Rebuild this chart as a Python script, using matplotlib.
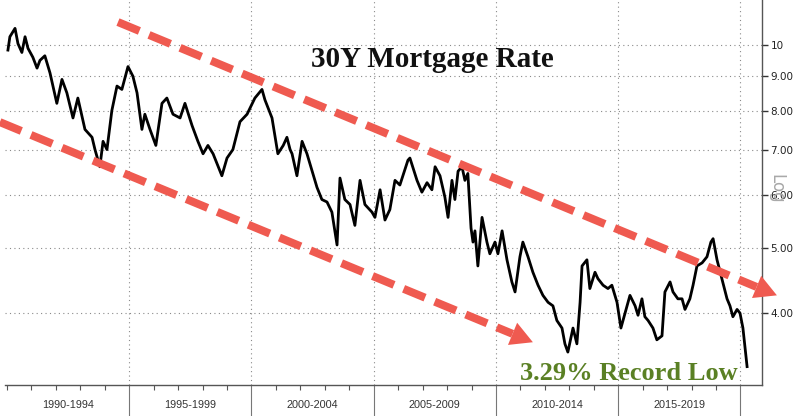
import matplotlib
matplotlib.use('Agg')
import matplotlib.pyplot as plt
import numpy as np

# weekly 30Y mortgage rate (decimal year, %)
years = [1990.04, 1990.12, 1990.33, 1990.45, 1990.61, 1990.74, 1990.86, 1991.06, 1991.23, 1991.35,
         1991.55, 1991.76, 1992.04, 1992.25, 1992.45, 1992.70, 1992.90, 1993.19, 1993.48, 1993.60,
         1993.80, 1993.93, 1994.09, 1994.29, 1994.50, 1994.70, 1994.95, 1995.15, 1995.32, 1995.52,
         1995.64, 1995.85, 1996.09, 1996.34, 1996.54, 1996.79, 1997.08, 1997.28, 1997.57, 1997.81,
         1998.02, 1998.22, 1998.43, 1998.79, 1999.00, 1999.24, 1999.53, 1999.82, 2000.14, 2000.43,
         2000.55, 2000.84, 2001.08, 2001.30, 2001.45, 2001.58, 2001.66, 2001.86, 2002.07, 2002.27,
         2002.68, 2002.88, 2003.09, 2003.29, 2003.50, 2003.62, 2003.82, 2004.03, 2004.23, 2004.44,
         2004.64, 2004.93, 2005.05, 2005.26, 2005.46, 2005.66, 2005.87, 2006.07, 2006.40, 2006.48,
         2006.77, 2006.97, 2007.18, 2007.38, 2007.51, 2007.71, 2007.91, 2008.04, 2008.20, 2008.32,
         2008.45, 2008.61, 2008.73, 2008.85, 2008.98, 2009.06, 2009.14, 2009.26, 2009.43, 2009.63,
         2009.75, 2009.96, 2010.08, 2010.25, 2010.45, 2010.65, 2010.78, 2010.98, 2011.10, 2011.31,
         2011.51, 2011.72, 2011.92, 2012.13, 2012.33, 2012.49, 2012.70, 2012.82, 2012.94, 2013.15,
         2013.31, 2013.44, 2013.52, 2013.72, 2013.84, 2014.05, 2014.17, 2014.38, 2014.58, 2014.74,
         2014.95, 2015.11, 2015.28, 2015.48, 2015.69, 2015.81, 2015.97, 2016.09, 2016.22, 2016.42,
         2016.58, 2016.79, 2016.91, 2017.12, 2017.24, 2017.44, 2017.61, 2017.73, 2017.93, 2018.06,
         2018.22, 2018.43, 2018.63, 2018.79, 2018.88, 2019.04, 2019.24, 2019.45, 2019.57, 2019.69,
         2019.86, 2019.98, 2020.10, 2020.27]
rates = [9.84, 10.3, 10.6, 10.06, 9.76, 10.3, 9.9, 9.6, 9.25, 9.5,
         9.65, 9.1, 8.2, 8.9, 8.5, 7.8, 8.35, 7.5, 7.3, 7.0,
         6.6, 7.2, 7.0, 8.0, 8.7, 8.6, 9.3, 9.0, 8.5, 7.5,
         7.9, 7.5, 7.1, 8.2, 8.35, 7.9, 7.8, 8.2, 7.6, 7.2,
         6.9, 7.1, 6.9, 6.4, 6.8, 7.0, 7.7, 7.9, 8.35, 8.6,
         8.3, 7.8, 6.9, 7.1, 7.3, 7.0, 6.9, 6.4, 7.2, 6.9,
         6.15, 5.9, 5.85, 5.65, 5.05, 6.35, 5.9, 5.8, 5.4, 6.3,
         5.8, 5.65, 5.55, 6.1, 5.5, 5.7, 6.3, 6.2, 6.75, 6.8,
         6.3, 6.05, 6.25, 6.1, 6.6, 6.4, 5.95, 5.55, 6.3, 5.9,
         6.5, 6.6, 6.3, 6.45, 5.35, 5.1, 5.3, 4.7, 5.55, 5.1,
         4.9, 5.1, 4.9, 5.3, 4.8, 4.45, 4.3, 4.85, 5.1, 4.85,
         4.6, 4.4, 4.25, 4.15, 4.1, 3.9, 3.8, 3.6, 3.5, 3.8,
         3.6, 4.15, 4.7, 4.8, 4.35, 4.6, 4.5, 4.4, 4.35, 4.4,
         4.15, 3.8, 4.0, 4.25, 4.1, 3.97, 4.2, 3.95, 3.9, 3.8,
         3.65, 3.7, 4.3, 4.45, 4.3, 4.2, 4.2, 4.05, 4.2, 4.4,
         4.7, 4.75, 4.85, 5.1, 5.16, 4.8, 4.5, 4.2, 4.1, 3.95,
         4.05, 4.0, 3.8, 3.33]

period_labels = ['1990-1994', '1995-1999', '2000-2004', '2005-2009', '2010-2014', '2015-2019']
period_starts = [1990, 1995, 2000, 2005, 2010, 2015]
y_ticks = [4, 5, 6, 7, 8, 9, 10]
y_ticklabels = ['4.00', '5.00', '6.00', '7.00', '8.00', '9.00', '10']

RED = '#ef5a50'
GREEN = '#5a8024'


def trend_arrow(ax, start, tip, head_len=22, head_w=24, lw=8):
    """dashed trend line with a filled triangular head, start/tip in data coords"""
    to_px = ax.transData
    p0 = to_px.transform(start)
    p1 = to_px.transform(tip)
    u = (p1 - p0) / np.hypot(*(p1 - p0))
    base = p1 - u * head_len
    base_data = to_px.inverted().transform(base)
    ax.plot([start[0], base_data[0]], [start[1], base_data[1]], color=RED,
            lw=lw * 0.72, dashes=(2.9, 1.3), dash_capstyle='butt',
            clip_on=False, zorder=4)
    n = np.array([-u[1], u[0]])
    tri = np.array([p1, base + n * head_w / 2, base - n * head_w / 2])
    tri_data = to_px.inverted().transform(tri)
    ax.fill(tri_data[:, 0], tri_data[:, 1], color=RED, lw=0, clip_on=False, zorder=4)


fig = plt.figure(figsize=(8, 4.16), dpi=100)
ax = fig.add_axes([5 / 800, 31 / 416, 757 / 800, 385 / 416])

ax.plot(years, rates, color='black', lw=2.0, zorder=3)

ax.set_yscale('log')
ax.set_xlim(1989.92, 2020.88)
ax.set_ylim(3.127, 11.68)

ax.yaxis.tick_right()
ax.set_yticks(y_ticks)
ax.set_yticklabels(y_ticklabels)
ax.yaxis.set_minor_locator(matplotlib.ticker.NullLocator())
ax.tick_params(axis='y', which='major', direction='out', length=4, width=1,
               color='#333333', labelsize=7.5, labelcolor='#222222', pad=2)

# 5-year dividers run below the axis, yearly ticks are short
ax.set_xticks(period_starts[1:] + [2020])
ax.set_xticks(np.arange(1990, 2021), minor=True)
ax.set_xticklabels([])
ax.tick_params(axis='x', which='major', direction='out', length=23, width=0.8, color='#777777')
ax.tick_params(axis='x', which='minor', direction='out', length=3.5, width=0.8, color='#555555')
for start, lab in zip(period_starts, period_labels):
    ax.text(start + 2.5, -0.052, lab, transform=ax.get_xaxis_transform(),
            ha='center', va='center', fontsize=7.8, color='#333333',
            family='Liberation Sans')

ax.grid(True, which='major', axis='both', color='#8a8a8a', lw=0.8, ls=(0, (1, 3)))

for side in ['top', 'left']:
    ax.spines[side].set_visible(False)
for side in ['bottom', 'right']:
    ax.spines[side].set_color('#555555')
    ax.spines[side].set_linewidth(1.0)

trend_arrow(ax, (1994.54, 10.83), (2021.49, 4.25))
trend_arrow(ax, (1989.71, 7.69), (2011.51, 3.62))

fig.text(0.54, 0.839, '30Y Mortgage Rate', ha='center', va='baseline',
         fontsize=21, fontweight='bold', family='Liberation Serif', color='#111111')
fig.text(0.786, 0.0865, '3.29% Record Low', ha='center', va='baseline',
         fontsize=19, fontweight='bold', family='Liberation Serif', color=GREEN, zorder=5)
# the grey axis-scale tag sits over the 6.00 label in the original too
fig.text(0.971, 0.545, 'Log', ha='center', va='center', rotation=-90,
         fontsize=12, color='#a8a8a8')

fig.savefig('out.png', dpi=100)
